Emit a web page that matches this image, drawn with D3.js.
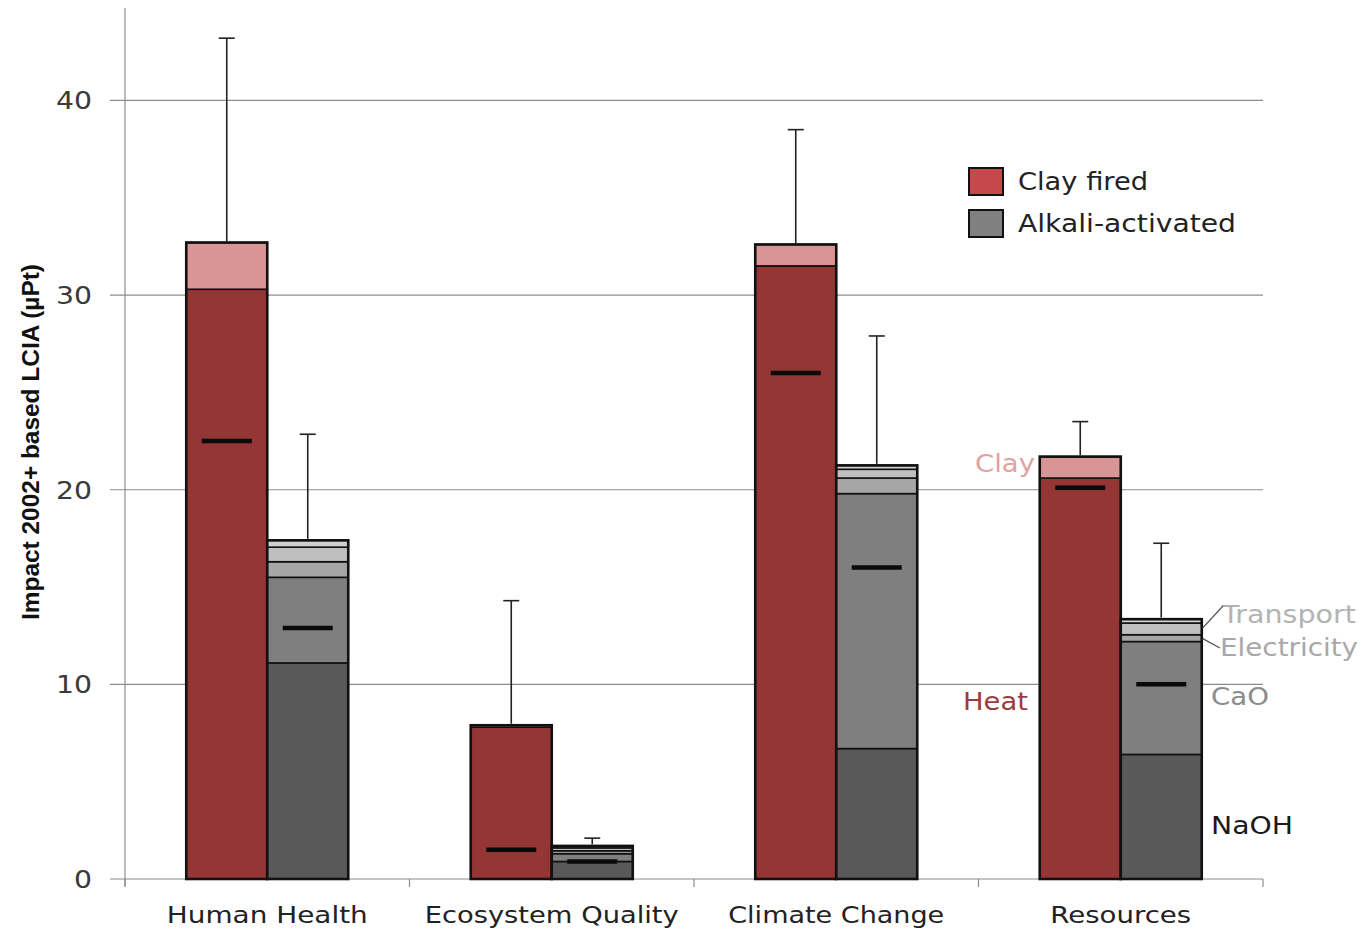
<!DOCTYPE html>
<html><head><meta charset="utf-8">
<script src="https://cdn.jsdelivr.net/npm/d3@7"></script>
<style>body{margin:0;background:#fff}svg{display:block}</style>
</head><body>
<svg id="c" width="1363" height="931"></svg>
<script>
const categories = ["Human Health","Ecosystem Quality","Climate Change","Resources"];
// Clay fired stack
const clayHeat = [30.3, 7.8, 31.5, 20.6];
const clayClay = [2.4, 0.1, 1.1, 1.1];
const clayMean = [22.5, 1.5, 26.0, 20.1];
const clayErrTop = [43.2, 14.3, 38.5, 23.5];
// Alkali-activated stack
const alkNaOH = [11.1, 0.9, 6.7, 6.4];
const alkCaO = [4.4, 0.4, 13.1, 5.8];
const alkElec = [0.8, 0.15, 0.8, 0.35];
const alkTransport = [0.75, 0.15, 0.45, 0.6];
const alkOther = [0.35, 0.1, 0.2, 0.2];
const alkMean = [12.9, 0.9, 16.0, 10.0];
const alkErrTop = [22.85, 2.1, 27.9, 17.25];
const yTicks = [0, 10, 20, 30, 40];
const seriesNames = ["Clay fired","Alkali-activated"];

const svg = d3.select("#c");
const y = d3.scaleLinear().domain([0, 44.75]).range([879, 8]);
const x = d3.scaleBand().domain(categories).range([125, 1263]).paddingInner(0);
const barW = 81;

// gridlines
svg.append("g").selectAll("line").data(yTicks.filter(d=>d>0)).join("line")
  .attr("x1",110).attr("x2",1263).attr("y1",d=>y(d)).attr("y2",d=>y(d))
  .attr("stroke","#8c8c8c").attr("stroke-width",1.2);
// y axis
svg.append("line").attr("x1",125).attr("x2",125).attr("y1",8).attr("y2",886).attr("stroke","#8c8c8c").attr("stroke-width",1.2);
svg.append("line").attr("x1",110).attr("x2",1263).attr("y1",y(0)).attr("y2",y(0)).attr("stroke","#8c8c8c").attr("stroke-width",1.2);
// x ticks
const bounds = categories.map(c=>x(c)).concat([x.range()[1]]);
svg.append("g").selectAll("line").data(bounds).join("line")
  .attr("x1",d=>d).attr("x2",d=>d).attr("y1",y(0)).attr("y2",y(0)+8)
  .attr("stroke","#8c8c8c").attr("stroke-width",1.2);
// y tick labels
svg.append("g").selectAll("text").data(yTicks).join("text")
  .attr("x",92).attr("y",d=>y(d)+9).attr("text-anchor","end")
  .attr("font-family","DejaVu Sans").attr("font-size",25).attr("fill","#3a3a3a")
  .attr("textLength",d=>String(d).length*18).attr("lengthAdjust","spacingAndGlyphs")
  .text(d=>d);
// y label
svg.append("text").attr("transform","translate(39,442) rotate(-90)")
  .attr("text-anchor","middle").attr("font-family","Liberation Sans, Arial").attr("font-weight","bold")
  .attr("font-size",24).attr("fill","#111").attr("textLength",356).attr("lengthAdjust","spacingAndGlyphs")
  .text("Impact 2002+  based LCIA (µPt)");
// x labels
const xLabW = [201, 254, 216, 141];
svg.append("g").selectAll("text").data(categories).join("text")
  .attr("x",d=>x(d)+x.bandwidth()/2).attr("y",923).attr("text-anchor","middle")
  .attr("font-family","DejaVu Sans").attr("font-size",23).attr("fill","#222")
  .attr("textLength",(d,i)=>xLabW[i]).attr("lengthAdjust","spacingAndGlyphs")
  .text(d=>d);

function drawStack(layers, colors, offset){
  categories.forEach((c,i)=>{
    const x0 = x(c)+x.bandwidth()/2 + offset;
    let base = 0;
    layers.forEach((L,k)=>{
      const top = base + L[i];
      svg.append("rect").attr("x",x0).attr("width",barW)
        .attr("y",y(top)).attr("height",y(base)-y(top))
        .attr("fill",colors[k]).attr("stroke","#111").attr("stroke-width",1.6);
      base = top;
    });
    svg.append("rect").attr("x",x0).attr("width",barW).attr("y",y(base)).attr("height",y(0)-y(base))
      .attr("fill","none").attr("stroke","#111").attr("stroke-width",2.6);
  });
}
drawStack([clayHeat, clayClay], ["#943634","#d99594"], -barW);
drawStack([alkNaOH, alkCaO, alkElec, alkTransport, alkOther], ["#595959","#7f7f7f","#a6a6a6","#bfbfbf","#d0d0d0"], 0);

function totals(layers){ return categories.map((c,i)=>d3.sum(layers, L=>L[i])); }
const clayTot = totals([clayHeat, clayClay]);
const alkTot = totals([alkNaOH, alkCaO, alkElec, alkTransport, alkOther]);

function drawErr(tot, errTop, mean, offset){
  categories.forEach((c,i)=>{
    const cx = x(c)+x.bandwidth()/2 + offset + barW/2;
    svg.append("line").attr("x1",cx).attr("x2",cx).attr("y1",y(tot[i])-1.5).attr("y2",y(errTop[i]))
      .attr("stroke","#222").attr("stroke-width",1.6);
    svg.append("line").attr("x1",cx-8).attr("x2",cx+8).attr("y1",y(errTop[i])).attr("y2",y(errTop[i]))
      .attr("stroke","#222").attr("stroke-width",1.6);
    svg.append("line").attr("x1",cx-25).attr("x2",cx+25).attr("y1",y(mean[i])).attr("y2",y(mean[i]))
      .attr("stroke","#0a0a0a").attr("stroke-width",4.5);
  });
}
drawErr(clayTot, clayErrTop, clayMean, -barW);
drawErr(alkTot, alkErrTop, alkMean, 0);

// legend
const legColors = ["#c8474a","#808080"];
const lg = svg.append("g");
seriesNames.forEach((n,i)=>{
  lg.append("rect").attr("x",969).attr("y",168+i*42).attr("width",34).attr("height",27)
    .attr("fill",legColors[i]).attr("stroke","#111").attr("stroke-width",2);
  lg.append("text").attr("x",1018).attr("y",190+i*42).attr("font-family","DejaVu Sans").attr("font-size",24)
    .attr("fill","#222").attr("textLength",i===0?130:218).attr("lengthAdjust","spacingAndGlyphs").text(n);
});

// component annotations
const ann = [
  {t:"Clay", x:975, y:472, c:"#e0a3a3", w:60},
  {t:"Heat", x:963, y:710, c:"#9a3c3a", w:65},
  {t:"Transport", x:1222, y:623, c:"#b3b3b3", w:134},
  {t:"Electricity", x:1220, y:656, c:"#a8a8a8", w:138},
  {t:"CaO", x:1211, y:705, c:"#8c8c8c", w:58},
  {t:"NaOH", x:1211, y:834, c:"#1a1a1a", w:82}
];
svg.append("g").selectAll("text").data(ann).join("text")
  .attr("x",d=>d.x).attr("y",d=>d.y).attr("fill",d=>d.c)
  .attr("font-family","DejaVu Sans").attr("font-size",24)
  .attr("textLength",d=>d.w).attr("lengthAdjust","spacingAndGlyphs").text(d=>d.t);
const rx = x("Resources")+x.bandwidth()/2 + barW;
svg.append("line").attr("x1",rx+1).attr("y1",y(12.9)).attr("x2",1223).attr("y2",606).attr("stroke","#555").attr("stroke-width",1.3);
svg.append("line").attr("x1",rx+1).attr("y1",y(12.35)).attr("x2",1220).attr("y2",648).attr("stroke","#555").attr("stroke-width",1.3);
</script>
</body></html>
